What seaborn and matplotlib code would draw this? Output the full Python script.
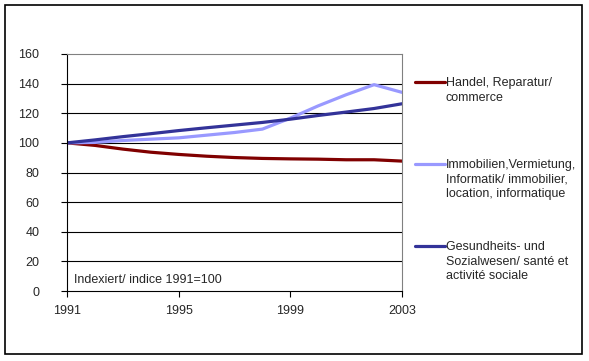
import pandas as pd
import matplotlib.pyplot as plt
import seaborn as sns
from matplotlib.patches import Rectangle
from matplotlib.lines import Line2D

# data (index 1991 = 100)
years = list(range(1991, 2004))
handel = [100, 98.3, 95.8, 93.7, 92.2, 91.0, 90.1, 89.5, 89.2, 89.0, 88.6, 88.6, 87.7]
immobilien = [100, 100.3, 101.6, 102.5, 103.4, 105.2, 107.0, 109.3, 116.7, 125.0, 132.5, 139.3, 134.1]
gesundheit = [100, 102.0, 104.2, 106.2, 108.3, 110.2, 112.0, 113.8, 116.0, 118.5, 120.8, 123.2, 126.4]

series_labels = ["Handel, Reparatur/\ncommerce",
                 "Immobilien,Vermietung,\nInformatik/ immobilier,\nlocation, informatique",
                 "Gesundheits- und\nSozialwesen/ santé et\nactivité sociale"]
colors = ["#800000", "#9999FF", "#333399"]
y_ticks = list(range(0, 161, 20))
x_ticks = [1991, 1995, 1999, 2003]

df = pd.DataFrame({
    "year": years * 3,
    "value": handel + immobilien + gesundheit,
    "series": [series_labels[0]] * 13 + [series_labels[1]] * 13 + [series_labels[2]] * 13,
})

sns.set_style("white")
plt.rcParams["font.family"] = ["Liberation Sans", "DejaVu Sans"]

W, H = 589, 361
fig = plt.figure(figsize=(5.89, 3.61), dpi=100)
ax = fig.add_axes([67 / W, 1 - 291 / H, 335 / W, 237 / H])

# outer frame of the chart
fig.patches.append(Rectangle((5 / W, 1 - 354 / H), 577 / W, 349 / H,
                             transform=fig.transFigure, fill=False,
                             edgecolor="black", linewidth=1.2))

sns.lineplot(data=df, x="year", y="value", hue="series", palette=colors,
             linewidth=2.3, legend=False, ax=ax)

ax.set_xlim(1991, 2003)
ax.set_ylim(0, 160)
ax.set_xticks(x_ticks)
ax.set_yticks(y_ticks)
ax.set_xlabel("")
ax.set_ylabel("")
for y in y_ticks[1:-1]:
    ax.axhline(y, color="black", linewidth=0.8, zorder=0)
ax.tick_params(axis="both", labelsize=9, length=4, width=0.8, color="black",
               direction="out", left=True, bottom=True)
ax.tick_params(axis="x", pad=6)
ax.tick_params(axis="y", pad=16)
for side in ["top", "right"]:
    ax.spines[side].set_color("#808080")
for side in ["left", "bottom"]:
    ax.spines[side].set_color("black")
for s in ax.spines.values():
    s.set_linewidth(0.8)

ax.text(0.02, 0.022, "Indexiert/ indice 1991=100", transform=ax.transAxes,
        fontsize=9, ha="left", va="bottom")

# legend: handle on the first text line, as in the original
handle_y = [82, 164, 246]
text_top = [77, 159, 241]
for color, label, hy, ty in zip(colors, series_labels, handle_y, text_top):
    fig.add_artist(Line2D([415 / W, 445 / W], [1 - hy / H, 1 - hy / H],
                          transform=fig.transFigure, color=color, linewidth=2.3))
    fig.text(446 / W, 1 - ty / H, label, fontsize=9, ha="left", va="top",
             linespacing=1.3)

fig.savefig("out.png", dpi=100)
